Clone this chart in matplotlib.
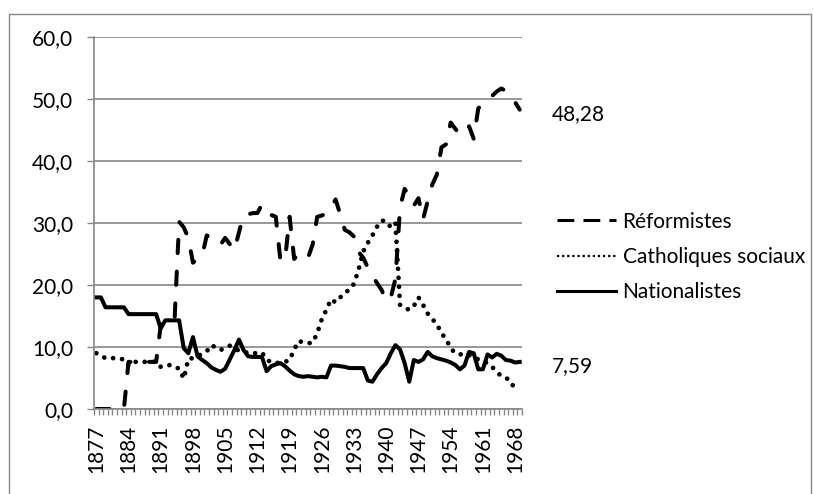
import numpy as np
import matplotlib.pyplot as plt
from matplotlib.lines import Line2D
from matplotlib.patches import Rectangle

# années 1877-1969
annees = list(range(1877, 1970))

reformistes = [0, 0, 0, 0, 0, 0, 0,
               7.6, 7.6, 7.6, 7.6, 7.6, 7.6, 7.6,
               13.5, 14.3, 14.3, 14.3, 30.2, 29.3, 27.6, 23.6, 24.2, 24.7,
               28.0, 27.6, 26.9, 26.5, 27.6, 26.6, 25.6, 28.5, 31.2, 31.4,
               31.6, 31.6, 33.0, 32.0, 31.3, 31.0, 24.0, 24.0, 31.0, 24.2,
               25.1, 24.6, 24.4, 26.5, 31.0, 31.2, 31.5, 32.5, 33.8, 31.4,
               28.9, 28.5, 27.8, 25.3, 24.4, 22.8, 21.5, 20.3, 19.2, 17.4,
               18.0, 21.0, 32.5, 35.5, 34.3, 32.8, 34.0, 30.6, 33.5, 36.2,
               37.8, 42.2, 42.7, 46.2, 45.2, 44.2, 45.0, 45.6, 43.6, 48.5,
               49.2, 49.7, 50.5, 51.2, 51.7, 51.3, 50.3, 49.5, 48.28]

catholiques = [9.0, 8.6, 8.2, 8.2, 8.2, 8.1, 8.0, 7.0, 7.6, 7.6,
               7.6, 7.6, 7.6, 7.6, 6.8, 6.9, 7.1, 6.8, 6.5, 4.9,
               8.1, 8.2, 8.5, 8.9, 9.3, 10.3, 9.9, 9.5, 9.9, 10.2,
               9.8, 9.4, 9.3, 9.0, 9.0, 9.0, 9.1, 8.0, 7.5, 7.4,
               7.5, 7.6, 7.9, 9.6, 11.0, 10.7, 10.6, 10.7, 12.2, 14.5,
               16.0, 17.7, 17.2, 18.0, 18.8, 19.2, 20.2, 22.5, 25.4, 26.8,
               28.0, 29.4, 30.4, 30.3, 29.3, 30.0, 16.8, 16.3, 16.0, 16.6,
               18.0, 16.8, 15.4, 14.5, 13.7, 12.2, 11.3, 9.8, 9.0, 8.8,
               8.9, 8.7, 8.3, 8.0, 7.7, 7.4, 6.8, 6.0, 5.3, 5.0,
               4.6, 3.0, np.nan]

nationalistes = [18.0, 18.0, 16.4, 16.4, 16.4, 16.4, 16.4, 15.3, 15.3, 15.3,
                 15.3, 15.3, 15.3, 15.3, 13.0, 14.3, 14.3, 14.3, 14.3, 9.8,
                 9.0, 11.6, 8.5, 7.9, 7.4, 6.7, 6.3, 6.0, 6.5, 8.0,
                 9.5, 11.2, 9.5, 8.5, 8.4, 8.4, 8.4, 6.1, 6.9, 7.2,
                 7.4, 6.9, 6.2, 5.6, 5.3, 5.2, 5.3, 5.2, 5.1, 5.2,
                 5.1, 7.0, 7.0, 6.9, 6.8, 6.6, 6.6, 6.6, 6.6, 4.6,
                 4.4, 5.6, 6.6, 7.4, 9.0, 10.3, 9.6, 7.4, 4.4, 7.9,
                 7.6, 8.0, 9.2, 8.5, 8.2, 8.0, 7.8, 7.5, 7.1, 6.4,
                 7.0, 9.2, 9.0, 6.4, 6.4, 8.8, 8.3, 8.9, 8.6, 7.9,
                 7.8, 7.5, 7.59]

labels_series = ['Réformistes', 'Catholiques sociaux', 'Nationalistes']

plt.rcParams['font.family'] = ['Lato', 'DejaVu Sans']
taille = 15
gris = '#878787'

W, H = 814, 494
fig = plt.figure(figsize=(W / 100, H / 100), dpi=100)
ax = fig.add_axes([94 / W, 1 - 409 / H, (522 - 94) / W, (409 - 37) / H])

x = np.arange(len(annees))
lw = 2.9
ax.plot(x, reformistes, color='black', lw=lw, linestyle=(0, (3.3, 4.6)),
        dash_capstyle='round', solid_capstyle='round')
ax.plot(x, catholiques, color='black', lw=3.4, linestyle=(0, (0.01, 1.9)),
        dash_capstyle='round')
ax.plot(x, nationalistes, color='black', lw=lw, solid_joinstyle='round')

ax.set_xlim(-0.5, len(annees) - 0.5)
ax.set_ylim(0, 60)

# axe y
ax.set_yticks(np.arange(0, 61, 10))
ax.set_yticklabels([f'{v:.1f}'.replace('.', ',') for v in np.arange(0, 61, 10)],
                   fontsize=taille)
ax.tick_params(axis='y', length=5, width=1, color=gris, pad=10)
ax.yaxis.grid(True, color=gris, lw=1.2)
ax.set_axisbelow(True)

# axe x : étiquettes tous les 7 ans, graduations à chaque catégorie
pos_lab = x[::7]
ax.set_xticks(pos_lab)
ax.set_xticklabels([str(annees[i]) for i in pos_lab], rotation=90, fontsize=taille)
ax.set_xticks(np.arange(-0.5, len(annees), 1), minor=True)
ax.tick_params(axis='x', which='major', length=0, pad=11)
ax.tick_params(axis='x', which='minor', length=4, width=1, color=gris)

for s in ['top', 'right']:
    ax.spines[s].set_visible(False)
for s in ['left', 'bottom']:
    ax.spines[s].set_color(gris)
    ax.spines[s].set_linewidth(1.2)

# étiquettes des dernières valeurs
ax.annotate('48,28', xy=(x[-1], reformistes[-1]), xytext=(23, -3),
            textcoords='offset points', va='center', ha='left', fontsize=taille)
ax.annotate('7,59', xy=(x[-1], nationalistes[-1]), xytext=(23, -3),
            textcoords='offset points', va='center', ha='left', fontsize=taille)

# légende
poignees = [Line2D([], [], color='black', lw=2.2, linestyle=(0, (5.5, 3.0))),
            Line2D([], [], color='black', lw=1.6, linestyle=(0, (1.0, 1.3))),
            Line2D([], [], color='black', lw=2.2)]
fig.legend(poignees, labels_series, loc='center left',
           bbox_to_anchor=(557 / W, 1 - 257 / H), frameon=False,
           fontsize=taille, handlelength=2.85, handletextpad=0.3,
           labelspacing=0.74, borderpad=0, borderaxespad=0)

# cadre du graphique
fig.add_artist(Rectangle((9 / W, -0.1), (811 - 9) / W, 1.1 - 14 / H,
                         transform=fig.transFigure, fill=False,
                         edgecolor=gris, lw=1))

fig.savefig('out.png', dpi=100)
